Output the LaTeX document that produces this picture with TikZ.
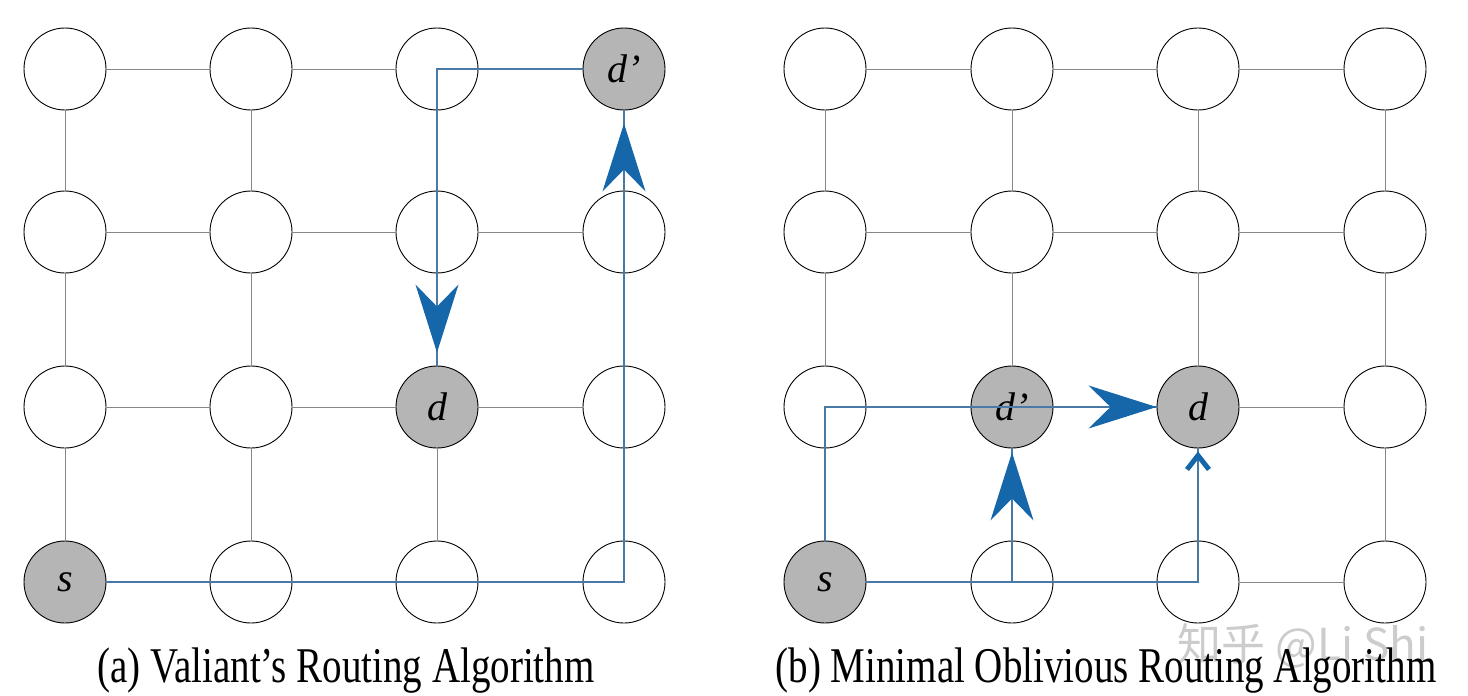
\documentclass[tikz,border=0pt]{standalone}
\usepackage{fontspec}
\usepackage{tikz}
\usetikzlibrary{arrows.meta}
\setmainfont{Liberation Serif}
\newfontfamily\capfont[FakeStretch=0.78]{Liberation Serif}
\newfontfamily\cjk{Noto Sans CJK SC}
\definecolor{nodegray}{RGB}{181,181,181}
\definecolor{linkgray}{RGB}{135,135,135}
\definecolor{routeblue}{RGB}{72,122,165}
\definecolor{tipblue}{RGB}{22,102,170}

\begin{document}
\begin{tikzpicture}[x=1pt, y=-1pt,
  router/.style={circle, draw=black, line width=0.9pt, fill=white, minimum size=82pt,
    inner sep=0pt, font=\fontsize{40}{40}\selectfont\itshape},
  hot/.style={router, fill=nodegray},
  a14/.style={hot, execute at begin node={s}},
  a33/.style={hot, execute at begin node={d}},
  a41/.style={hot, execute at begin node={d’}},
  b14/.style={hot, execute at begin node={s}},
  b23/.style={hot, execute at begin node={d’}},
  b33/.style={hot, execute at begin node={d}},
  link/.style={draw=linkgray, line width=0.9pt},
  route/.style={draw=routeblue, line width=1.4pt},
  flow/.style={route, -{Stealth[length=68pt, width=43pt, inset=22pt, color=tipblue]}},
  barb/.style={route, -{Straight Barb[length=14pt, width=22pt, line width=5pt, color=tipblue]}}]
  \useasboundingbox (0,0) rectangle (1468,696);
  % routers: a = left mesh, b = right mesh
  \foreach \c/\xa/\xb in {1/65/825, 2/251/1012, 3/437/1198, 4/624/1385}
    \foreach \r/\y in {1/69, 2/232, 3/407, 4/582} {
      \node[router, a\c\r/.try] (a\c\r) at (\xa,\y) {};
      \node[router, b\c\r/.try] (b\c\r) at (\xb,\y) {};
    }
  % mesh links
  \foreach \m in {a,b}
    \foreach \r in {1,...,4}
      \foreach \c/\n in {1/2, 2/3, 3/4} {
        \draw[link] (\m\c\r) -- (\m\n\r);
        \draw[link] (\m\r\c) -- (\m\r\n);
      }
  % (a) s -> d' -> d
  \draw[route] (a14) -- (a44.center) -- (a41);
  \draw[route] (a41) -- (a31.center) -- (a33);
  \draw[flow] (a43.center) -- ([yshift=-13pt]a41.south);
  \draw[flow] (a32.center) -- ([yshift=13pt]a33.north);
  % (b) s -> d' -> d inside the minimal quadrant
  \draw[route] (b14) -- (b13.center) -- (b33);
  \draw[route] (b14) -- (b34.center) -- (b33);
  \draw[route] (b24.center) -- (b23);
  \draw[flow] (b23.center) -- (b33.west);
  \draw[flow] (b24.center) -- ([yshift=-4pt]b23.south);
  \draw[barb] (b34.center) -- ([yshift=-3pt]b33.south);
  % captions
  \node[font=\cjk\fontsize{44}{44}\selectfont, text=gray!40] (mark) at (1303,646) {知乎 @Li Shi};
  \node[font=\capfont\fontsize{50}{50}\selectfont, anchor=base] (capa) at (346,682) {(a) Valiant’s Routing Algorithm};
  \node[font=\capfont\fontsize{50}{50}\selectfont, anchor=base] (capb) at (1106,682) {(b) Minimal Oblivious Routing Algorithm};
\end{tikzpicture}
\end{document}
